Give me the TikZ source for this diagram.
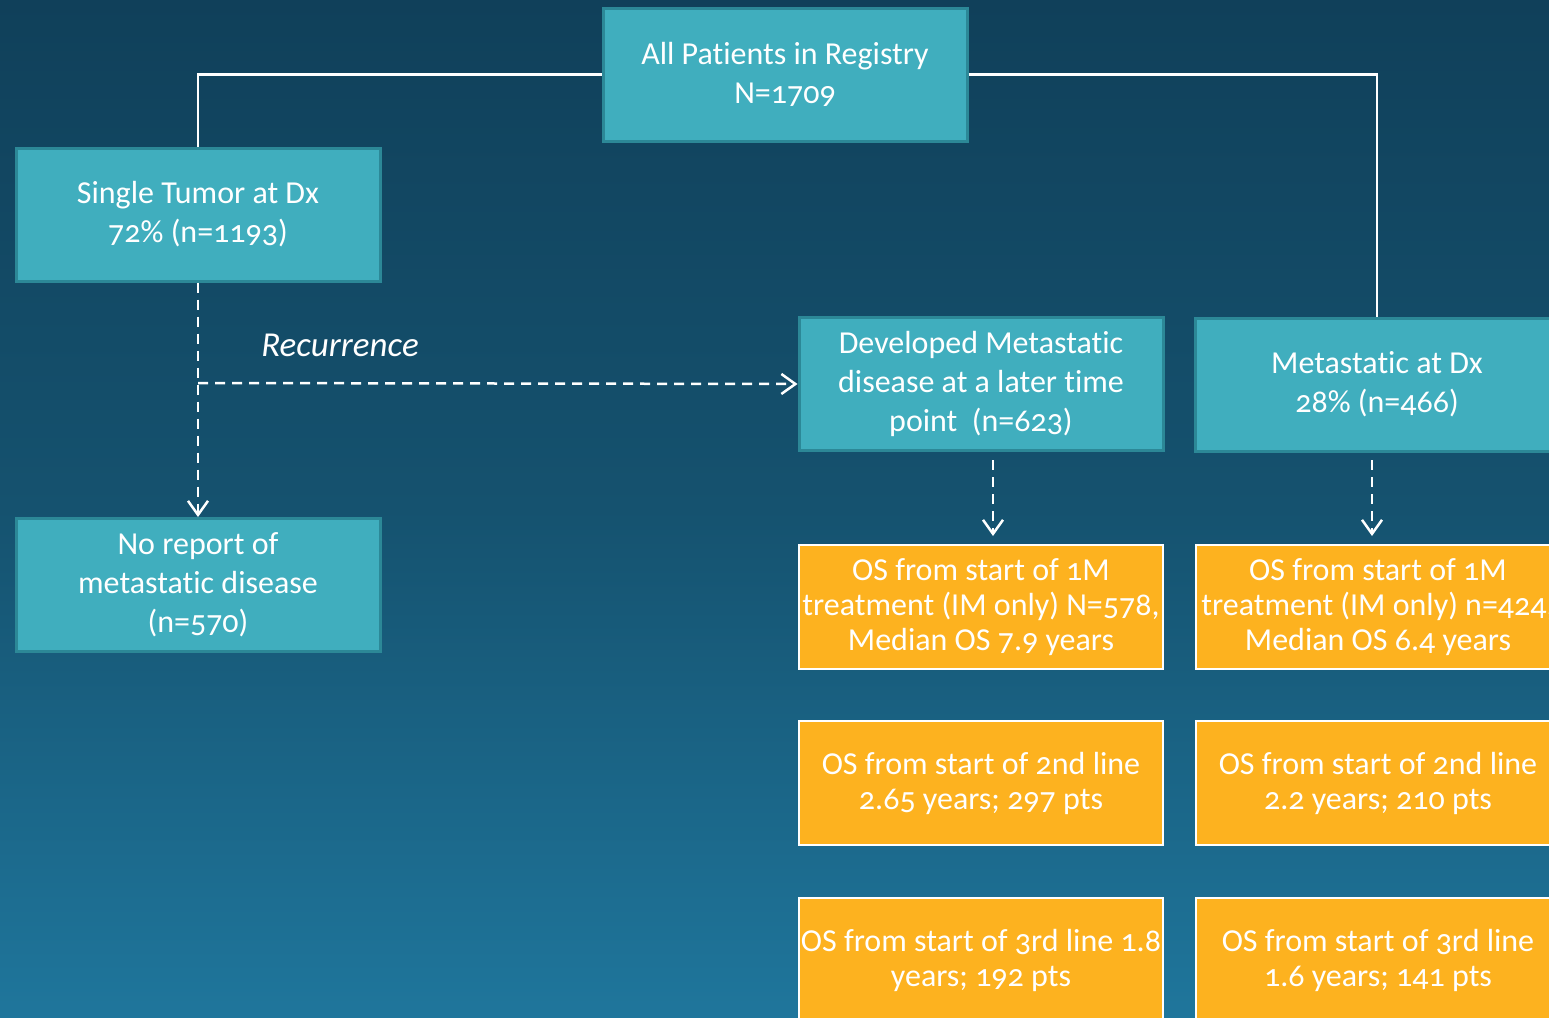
\documentclass[tikz,border=0pt]{standalone}
\usepackage{fontspec}
\setmainfont{Carlito}[Numbers=OldStyle,Ligatures=NoCommon,Contextuals=NoAlternate]
\usetikzlibrary{arrows.meta}
\definecolor{bgtop}{HTML}{10405A}
\definecolor{bgmid}{HTML}{15526F}
\definecolor{bgbot}{HTML}{1F769C}
\definecolor{tealfill}{HTML}{40AEBE}
\definecolor{tealedge}{HTML}{2C8897}
\definecolor{orfill}{HTML}{FDB21F}
\tikzset{
  tealbox/.style={draw=tealedge, line width=3pt, fill=tealfill, text=white,
    minimum width=364pt, minimum height=133pt, inner sep=0pt, align=center,
    font=\fontsize{32pt}{39pt}\selectfont},
  orbox/.style={draw=white, line width=2.5pt, fill=orfill, text=white,
    minimum width=364pt, minimum height=124pt, inner sep=0pt, align=center,
    font=\fontsize{32pt}{35pt}\selectfont},
  solidline/.style={draw=white, line width=2.5pt},
  dashline/.style={draw=white, line width=2.5pt, dash pattern=on 10pt off 7pt,
    -{Straight Barb[length=14pt,width=20pt,line width=2.5pt]}},
}
\begin{document}
\begin{tikzpicture}[x=1pt,y=-1pt]
\useasboundingbox (0,0) rectangle (1549,1017);
\shade[top color=bgtop, bottom color=bgbot, middle color=bgmid] (0,0) rectangle (1549,1017);

\node[tealbox] (all) at (785,74.5) {All Patients in Registry\\N=1709};
\node[tealbox] (single) at (198,214.5) {Single Tumor at Dx\\72\% (n=1193)};
\node[tealbox] (norep) at (198,585) {No report of\\metastatic disease\\(n=570)};
\node[tealbox] (dev) at (981,384) {Developed Metastatic\\disease at a later time\\point\ \ (n=623)};
\node[tealbox] (metdx) at (1377,384.5) {Metastatic at Dx\\28\% (n=466)};

\node[orbox] (l1) at (981,607) {OS from start of 1M\\treatment (IM only) N=578,\\Median OS 7.9 years};
\node[orbox] (r1) at (1378,607) {OS from start of 1M\\treatment (IM only) n=424,\\Median OS 6.4 years};
\node[orbox] (l2) at (981,783) {OS from start of 2nd line\\2.65 years; 297 pts};
\node[orbox] (r2) at (1378,783) {OS from start of 2nd line\\2.2 years; 210 pts};
\node[orbox] (l3) at (981,960) {OS from start of 3rd line 1.8\\years; 192 pts};
\node[orbox] (r3) at (1378,960) {OS from start of 3rd line\\1.6 years; 141 pts};

% solid connectors
\draw[solidline] (all.west) -| (single.north);
\draw[solidline] (all.east) -| (metdx.north);

% dashed connectors
\coordinate (branch) at (198,383);
\draw[dashline] (single.south) -- (norep.north);
\draw[dashline] (branch) -- (dev.west);
\node[text=white, font=\fontsize{35pt}{39pt}\selectfont\itshape] (rec) at (340,345) {Recurrence};

\coordinate (devs) at (993,460);
\coordinate (devt) at (993,536);
\coordinate (mets) at (1372,460);
\coordinate (mett) at (1372,536);
\draw[dashline] (devs) -- (devt);
\draw[dashline] (mets) -- (mett);
\end{tikzpicture}
\end{document}
